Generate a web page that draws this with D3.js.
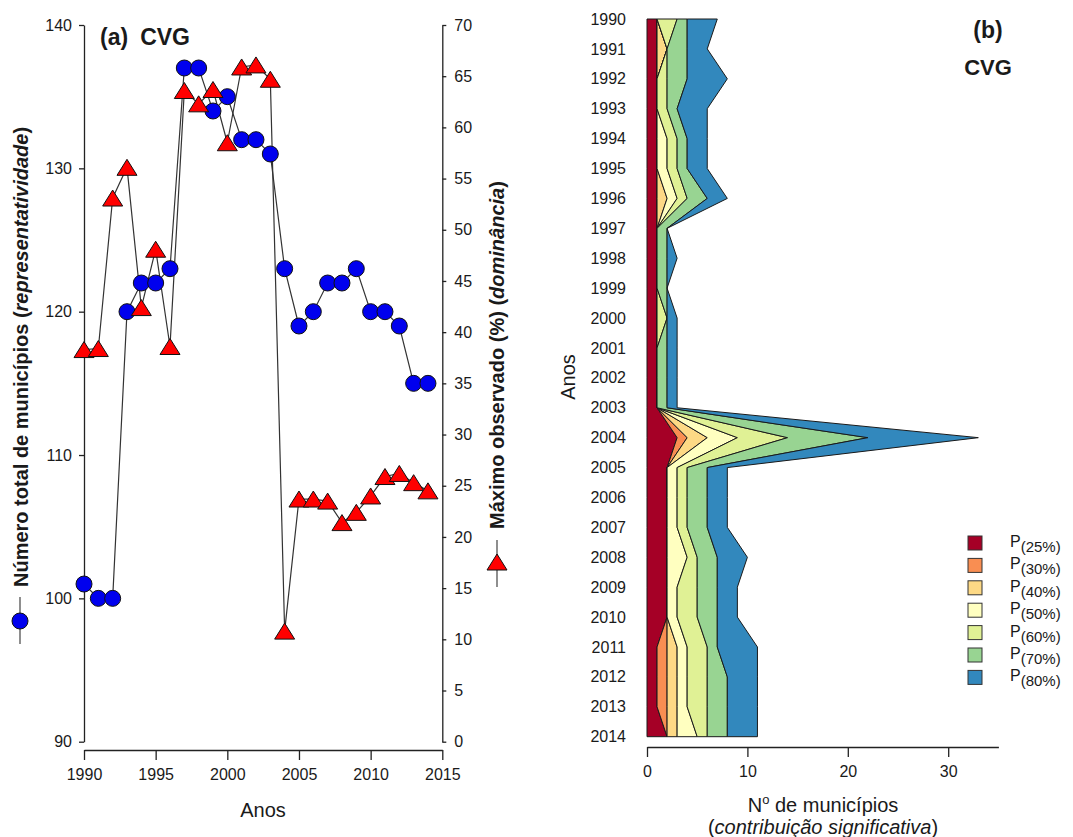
<!DOCTYPE html>
<html><head><meta charset="utf-8">
<script src="https://cdn.jsdelivr.net/npm/d3@7"></script>
<style>
body{margin:0;background:#fff;}
text{font-family:"Liberation Sans", Arial, Helvetica, sans-serif;fill:#1a1a1a;}
</style>
</head><body>
<svg id="chart" width="1073" height="837"></svg>
<script>
// ---------- DATA ----------
const years = [1990,1991,1992,1993,1994,1995,1996,1997,1998,1999,2000,2001,2002,
               2003,2004,2005,2006,2007,2008,2009,2010,2011,2012,2013,2014];
// (a) Número total de municípios (representatividade) - left axis
const municipios = [101,100,100,120,122,122,123,137,137,134,135,132,132,131,
                    123,119,120,122,122,123,120,120,119,115,115];
// (a) Máximo observado (%) (dominância) - right axis
const maximo = [38.3,38.4,53.1,56.1,42.4,48.1,38.6,63.6,62.3,63.7,58.5,65.9,66.1,
                64.7,10.8,23.7,23.7,23.5,21.4,22.4,24.0,25.9,26.2,25.3,24.5];
const leftTicks = [90,100,110,120,130,140];
const rightTicks = [0,5,10,15,20,25,30,35,40,45,50,55,60,65,70];
const xTicksA = [1990,1995,2000,2005,2010,2015];

// (b) Nº de municípios per class (stacked)
const seriesKeys = ["P25","P30","P40","P50","P60","P70","P80"];
const seriesLabels = ["(25%)","(30%)","(40%)","(50%)","(60%)","(70%)","(80%)"];
const seriesColors = ["#a50026","#f98e52","#fdd985","#ffffc0","#e0f195","#98d492","#3288bd"];
const p25 = [1,1,1,1,1,1,1,1,1,1,1,1,1,1,3,2,2,2,2,2,2,1,1,1,2];
const p30 = [0,0,0,0,0,0,0,0,0,0,0,0,0,0,1,0,0,0,0,0,0,1,1,1,0];
const p40 = [0,1,0,0,0,0,1,0,0,0,0,0,0,0,2,0,0,0,0,0,0,1,1,1,1];
const p50 = [0,0,0,0,1,1,1,0,0,0,0,0,0,0,3,1,1,1,2,1,1,1,1,1,2];
const p60 = [2,0,1,1,1,1,1,0,0,0,1,0,0,0,5,1,1,1,1,2,2,2,2,2,1];
const p70 = [1,2,2,1,1,1,2,1,1,1,0,1,1,1,8,2,2,2,2,2,2,1,2,2,2];
const p80 = [3,2,4,3,2,2,2,0,1,0,1,1,1,1,11,2,2,2,3,2,2,4,3,3,3];
const xTicksB = [0,10,20,30];

// ---------- CHART ----------
const svg = d3.select("#chart");
const axisColor = "#222";

// ===== Panel (a) =====
const xA = d3.scaleLinear().domain([1990,2015]).range([84,442.3]);
const yL = d3.scaleLinear().domain([90,140]).range([741.7,25]);
const yR = d3.scaleLinear().domain([0,70]).range([741.7,25]);

const gA = svg.append("g");

function styleAxis(g, fs){
  g.selectAll(".domain").attr("stroke",axisColor).attr("stroke-width",1.3);
  g.selectAll(".tick line").attr("stroke",axisColor).attr("stroke-width",1.3);
  g.selectAll(".tick text").attr("font-size",fs).attr("fill","#1a1a1a")
    .attr("font-family","'Liberation Sans', Arial, sans-serif");
}

const axL = gA.append("g").attr("transform","translate(84,0)")
  .call(d3.axisLeft(yL).tickValues(leftTicks).tickSize(5).tickPadding(7).tickSizeOuter(0));
styleAxis(axL,16);
const axR = gA.append("g").attr("transform","translate(442.3,0)")
  .call(d3.axisRight(yR).tickValues(rightTicks).tickSize(4).tickPadding(8).tickSizeOuter(0));
styleAxis(axR,16);
const axB = gA.append("g").attr("transform","translate(0,750)")
  .call(d3.axisBottom(xA).tickValues(xTicksA).tickFormat(d3.format("d")).tickSize(10).tickPadding(9).tickSizeOuter(0));
styleAxis(axB,16);

gA.append("text").attr("x",263).attr("y",817).attr("text-anchor","middle")
  .attr("font-size",20).text("Anos");

// lines
const lineL = d3.line().x((d,i)=>xA(years[i])).y(d=>yL(d));
const lineR = d3.line().x((d,i)=>xA(years[i])).y(d=>yR(d));
gA.append("path").datum(municipios).attr("d",lineL).attr("fill","none")
  .attr("stroke","#333").attr("stroke-width",1.2);
gA.append("path").datum(maximo).attr("d",lineR).attr("fill","none")
  .attr("stroke","#333").attr("stroke-width",1.2);

gA.selectAll("circle.m").data(municipios).join("circle").attr("class","m")
  .attr("cx",(d,i)=>xA(years[i])).attr("cy",d=>yL(d)).attr("r",8)
  .attr("fill","#0000ee").attr("stroke","#111").attr("stroke-width",1);

const triPath = "M0,-8L10,8L-10,8Z";
gA.selectAll("path.t").data(maximo).join("path").attr("class","t")
  .attr("d",triPath)
  .attr("transform",(d,i)=>`translate(${xA(years[i])},${yR(d)})`)
  .attr("fill","#ff0000").attr("stroke","#111").attr("stroke-width",1);

// title (a)
const tA = gA.append("text").attr("x",100).attr("y",45).attr("font-size",23).attr("font-weight","bold");
tA.append("tspan").text("(a)");
tA.append("tspan").attr("dx",12).text("CVG");

// left axis title with symbol
const lt = gA.append("text").attr("transform","translate(28,587) rotate(-90)")
  .attr("font-size",20).attr("font-weight","bold").attr("text-anchor","start");
lt.append("tspan").text("Número total de municípios (");
lt.append("tspan").attr("font-style","italic").text("representatividade");
lt.append("tspan").text(")");
gA.append("line").attr("x1",20).attr("x2",20).attr("y1",597).attr("y2",644)
  .attr("stroke","#444").attr("stroke-width",1.2);
gA.append("circle").attr("cx",20).attr("cy",621).attr("r",8)
  .attr("fill","#0000ee").attr("stroke","#111");

// right axis title with symbol
const rt = gA.append("text").attr("transform","translate(504,529) rotate(-90)")
  .attr("font-size",20).attr("font-weight","bold").attr("text-anchor","start");
rt.append("tspan").text("Máximo observado (%) (");
rt.append("tspan").attr("font-style","italic").text("dominância");
rt.append("tspan").text(")");
gA.append("line").attr("x1",497).attr("x2",497).attr("y1",540).attr("y2",587)
  .attr("stroke","#444").attr("stroke-width",1.2);
gA.append("path").attr("d",triPath).attr("transform","translate(497,562)")
  .attr("fill","#ff0000").attr("stroke","#111");

// ===== Panel (b) =====
const gB = svg.append("g");
const xB = d3.scaleLinear().domain([0,35]).range([647,998.4]);
const yB = d3.scalePoint().domain(years).range([19,736.7]);

const seriesArrays = [p25,p30,p40,p50,p60,p70,p80];
const rows = years.map((yr,i)=>{
  const o = {year:yr};
  seriesKeys.forEach((k,j)=>{ o[k]=seriesArrays[j][i]; });
  return o;
});
const stacked = d3.stack().keys(seriesKeys)(rows);
const area = d3.area()
  .y(d=>yB(d.data.year))
  .x0(d=>xB(d[0]))
  .x1(d=>xB(d[1]));
gB.selectAll("path.layer").data(stacked).join("path").attr("class","layer")
  .attr("d",area)
  .attr("fill",(d,i)=>seriesColors[i])
  .attr("stroke","#1a1a1a").attr("stroke-width",1)
  .attr("stroke-linejoin","miter");

// year labels
gB.selectAll("text.yl").data(years).join("text").attr("class","yl")
  .attr("x",626).attr("y",d=>yB(d)).attr("dy","0.35em")
  .attr("text-anchor","end").attr("font-size",16).text(d=>d);

const axBB = gB.append("g").attr("transform","translate(0,747)")
  .call(d3.axisBottom(xB).tickValues(xTicksB).tickSize(10).tickPadding(9).tickSizeOuter(0));
styleAxis(axBB,16);

gB.append("text").attr("transform","translate(575,377) rotate(-90)")
  .attr("text-anchor","middle").attr("font-size",20).text("Anos");

const xt = gB.append("text").attr("x",823).attr("y",812).attr("text-anchor","middle").attr("font-size",20);
xt.append("tspan").text("N");
xt.append("tspan").attr("dy",-8).attr("font-size",13).text("o");
xt.append("tspan").attr("dy",8).text(" de municípios");
const xt2 = gB.append("text").attr("x",823).attr("y",834).attr("text-anchor","middle").attr("font-size",20);
xt2.append("tspan").text("(");
xt2.append("tspan").attr("font-style","italic").text("contribuição significativa");
xt2.append("tspan").text(")");

gB.append("text").attr("x",988).attr("y",38).attr("text-anchor","middle")
  .attr("font-size",23).attr("font-weight","bold").text("(b)");
gB.append("text").attr("x",988).attr("y",75).attr("text-anchor","middle")
  .attr("font-size",22).attr("font-weight","bold").text("CVG");

// legend
const leg = gB.selectAll("g.leg").data(seriesKeys).join("g").attr("class","leg")
  .attr("transform",(d,i)=>`translate(968,${536 + i*22.4})`);
leg.append("rect").attr("width",14).attr("height",14)
  .attr("fill",(d,i)=>seriesColors[i]).attr("stroke","#333").attr("stroke-width",1);
const lt2 = leg.append("text").attr("x",42).attr("y",11).attr("font-size",16);
lt2.append("tspan").text("P");
lt2.append("tspan").attr("dy",5).attr("font-size",15).text((d,i)=>seriesLabels[i]);
</script>
</body></html>
